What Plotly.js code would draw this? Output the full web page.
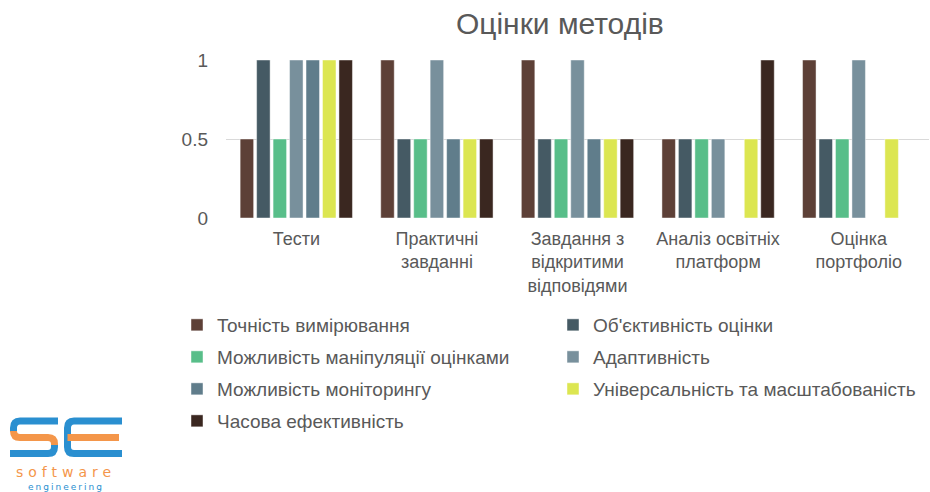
<!DOCTYPE html>
<html><head><meta charset="utf-8">
<script src="https://cdn.plot.ly/plotly-3.0.1.min.js"></script>
<style>html,body{margin:0;padding:0;background:#fff}#chart{width:930px;height:492px}</style>
</head><body><div id="chart"></div>
<script>
// ---- data ----
const categories = ['Тести', 'Практичні<br>завданні', 'Завдання з<br>відкритими<br>відповідями', 'Аналіз освітніх<br>платформ', 'Оцінка<br>портфоліо'];
const seriesNames = ['Точність вимірювання', "Об'єктивність оцінки", 'Можливість маніпуляції оцінками', 'Адаптивність', 'Можливість моніторингу', 'Універсальність та масштабованість', 'Часова ефективність'];
const accuracy      = [0.5, 1, 1, 0.5, 1];
const objectivity   = [1, 0.5, 0.5, 0.5, 0.5];
const manipulation  = [0.5, 0.5, 0.5, 0.5, 0.5];
const adaptivity    = [1, 1, 1, 0.5, 1];
const monitoring    = [1, 0.5, 0.5, 0, 0];
const universality  = [1, 0.5, 0.5, 0.5, 0.5];
const timeEfficiency= [1, 0.5, 0.5, 1, 0];
const yTickVals = [0, 0.5, 1];
const yTickText = ['0', '0.5', '1'];
const chartTitle = 'Оцінки методів';
const logoWord1 = 'software';
const logoWord2 = 'engineering';

// ---- styles ----
const seriesValues = [accuracy, objectivity, manipulation, adaptivity, monitoring, universality, timeEfficiency];
const colors = ['#5d4037', '#455a64', '#58be89', '#78909c', '#607d8b', '#dce651', '#3a2720'];
const legendIds = ['legend', 'legend2', 'legend3', 'legend4', 'legend5', 'legend6', 'legend7'];
const FONT = 'Liberation Sans, Arial, sans-serif';
const TXT = '#595959';

const traces = seriesNames.map((name, i) => ({
  type: 'bar', name: name, x: categories, y: seriesValues[i],
  marker: {color: colors[i], line: {color: 'rgba(255,255,255,0.45)', width: 1}},
  legend: legendIds[i], hoverinfo: 'skip'
}));

// pixel -> paper helpers (plot area: left 226, top 60, width 703, height 158)
const L = 226, T = 60, W = 703, H = 158;
const px = v => (v - L) / W;
const py = v => (T + H - v) / H;
function path(cmds) {
  return cmds.map(c => c[0] + c.slice(1).reduce((acc, v, k, arr) => {
    if (k % 2 === 0) acc.push(px(v).toFixed(5) + ',' + py(arr[k + 1]).toFixed(5));
    return acc;
  }, []).join(' ')).join(' ');
}
const BLUE = '#2a8fd0', ORANGE = '#f4964a';
const lw = 7;
const shapes = [
  // S
  {type: 'path', xref: 'paper', yref: 'paper', line: {color: BLUE, width: lw},
   path: path([['M', 58, 421], ['L', 20, 421], ['Q', 13.5, 421, 13.5, 428], ['L', 13.5, 432]])},
  {type: 'path', xref: 'paper', yref: 'paper', line: {color: ORANGE, width: lw},
   path: path([['M', 13.5, 431], ['Q', 13.5, 437.5, 20, 437.5], ['L', 48, 437.5], ['Q', 54.5, 437.5, 54.5, 444], ['L', 54.5, 446]])},
  {type: 'path', xref: 'paper', yref: 'paper', line: {color: BLUE, width: lw},
   path: path([['M', 54.5, 445], ['L', 54.5, 447], ['Q', 54.5, 453.5, 48, 453.5], ['L', 10, 453.5]])},
  // E
  {type: 'path', xref: 'paper', yref: 'paper', line: {color: BLUE, width: lw},
   path: path([['M', 122, 421], ['L', 74, 421], ['Q', 67.5, 421, 67.5, 428], ['L', 67.5, 447], ['Q', 67.5, 453.5, 74, 453.5], ['L', 122, 453.5]])},
  {type: 'path', xref: 'paper', yref: 'paper', line: {color: ORANGE, width: lw},
   path: path([['M', 67.5, 437.5], ['L', 119, 437.5]])}
];

const annotations = [
  {xref: 'paper', yref: 'paper', x: px(66), y: py(472), xanchor: 'center', yanchor: 'middle', showarrow: false,
   text: '<span style="letter-spacing:5px">' + logoWord1 + '</span>', font: {family: 'DejaVu Sans, sans-serif', size: 14, color: ORANGE}},
  {xref: 'paper', yref: 'paper', x: px(66), y: py(487), xanchor: 'center', yanchor: 'middle', showarrow: false,
   text: '<span style="letter-spacing:2px">' + logoWord2 + '</span>', font: {family: 'DejaVu Sans, sans-serif', size: 9, color: BLUE}}
];

const legendBase = {orientation: 'h', itemwidth: 30,
  font: {family: FONT, size: 19, color: TXT}, xanchor: 'left', yanchor: 'middle',
  bgcolor: 'rgba(0,0,0,0)', borderwidth: 0, itemclick: false, itemdoubleclick: false};
const colX = [px(177), px(553)];
const rowY = [py(325), py(357), py(389), py(421)];

const layout = {
  width: 930, height: 492,
  margin: {l: L, r: 930 - L - W, t: T, b: 492 - T - H, pad: 0},
  paper_bgcolor: '#fff', plot_bgcolor: '#fff',
  title: {text: chartTitle, x: 0.602, xanchor: 'center', y: 0.952, yanchor: 'middle', font: {family: FONT, size: 30, color: TXT}},
  barmode: 'group', bargap: 0.18, bargroupgap: 0.18,
  xaxis: {type: 'category', showgrid: false, zeroline: false, showline: false, ticks: '',
    tickfont: {family: FONT, size: 18, color: TXT}, ticklabelstandoff: 8, fixedrange: true},
  yaxis: {range: [0, 1], tickvals: yTickVals, ticktext: yTickText, showgrid: true, gridcolor: '#d9d9d9', gridwidth: 1,
    zeroline: false, showline: false, ticks: '', tickfont: {family: FONT, size: 19, color: TXT}, ticklabelstandoff: 17, fixedrange: true},
  showlegend: true,
  shapes: shapes,
  annotations: annotations
};
legendIds.forEach((id, i) => {
  layout[id] = Object.assign({}, legendBase, {x: colX[i % 2], y: rowY[Math.floor(i / 2)]});
});

Plotly.newPlot('chart', traces, layout, {displayModeBar: false, staticPlot: true});
</script>
</body></html>
